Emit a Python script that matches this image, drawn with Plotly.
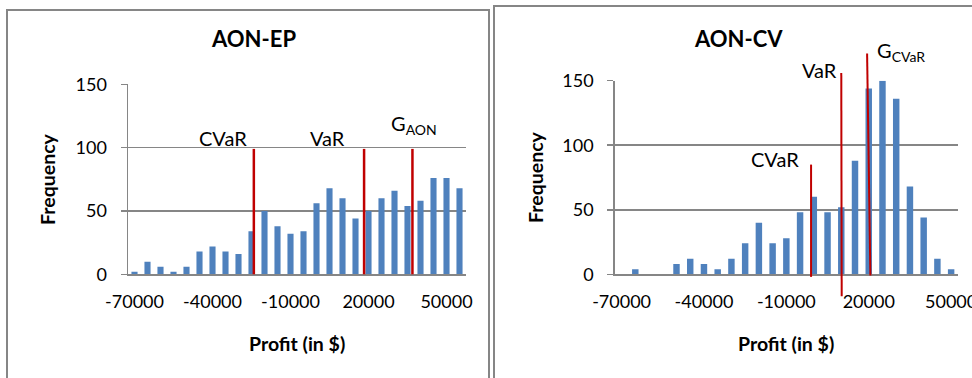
import plotly.graph_objects as go

# ---------------- data ----------------
ep_bins = list(range(-70000, 60000, 5000))          # 26 bins
ep_freq = [2, 10, 6, 2, 6, 18, 22, 18, 16, 34, 50, 38, 32, 34, 56, 68,
           60, 44, 50, 60, 66, 54, 58, 76, 76, 68]

cv_bins = list(range(-70000, 55000, 5000))          # 25 bins
cv_freq = [0, 4, 0, 0, 8, 12, 8, 4, 12, 24, 40, 24, 28, 48, 60, 48,
           52, 88, 144, 150, 136, 68, 44, 12, 4]

tick_vals = [-70000, -40000, -10000, 20000, 50000]
tick_text = ["-70000", "-40000", "-10000", "20000", "50000"]

# marker lines: (label, x_bottom, x_top, y_bottom, y_top)
ep_lines = [("CVaR", -24100, -24100, 0, 99),
            ("VaR", 18300, 18300, 0, 99),
            ("G<sub>AON</sub>", 36900, 36900, 0, 99)]
cv_lines = [("CVaR", -1000, -1000, -2, 85),
            ("VaR", 10150, 10000, -17, 156),
            ("G<sub>CVaR</sub>", 20600, 19400, -1, 171)]

# label positions (x value, frequency level)
ep_labels = [("CVaR", -36000, 108), ("VaR", 4400, 108), ("G<sub>AON</sub>", 37500, 118)]
cv_labels = [("CVaR", -14100, 89), ("VaR", 2200, 158), ("G<sub>CVaR</sub>", 31700, 173)]

YMAX = 150
BLUE = "#4F81BD"
RED = "#C00000"
GRID = "#868686"
FONT = "Lato"

fig = go.Figure()
fig.add_trace(go.Bar(x=ep_bins, y=ep_freq, marker_color=BLUE,
                     marker_line_width=0, xaxis="x", yaxis="y", width=2350))
fig.add_trace(go.Bar(x=cv_bins, y=cv_freq, marker_color=BLUE,
                     marker_line_width=0, xaxis="x2", yaxis="y2", width=2350))

common_x = dict(tickmode="array", tickvals=tick_vals, ticktext=tick_text,
                showgrid=False, showline=True, linecolor=GRID, linewidth=1.5,
                ticks="", tickfont=dict(family=FONT, size=18, color="#000"),
                zeroline=False, fixedrange=True, automargin=False,
                ticklabelstandoff=11, ticklabeloverflow="allow")
common_y = dict(range=[0, YMAX], dtick=50, showgrid=True, gridcolor=GRID,
                gridwidth=1.5, showline=True, linecolor=GRID, linewidth=1.5,
                ticks="outside", ticklen=6, tickcolor=GRID, tickwidth=1.5,
                tickfont=dict(family=FONT, size=18, color="#000"),
                zeroline=False, fixedrange=True, ticklabelstandoff=10,
                automargin=False, ticklabeloverflow="allow")

fig.update_layout(
    width=972, height=378, margin=dict(l=0, r=0, t=0, b=0),
    paper_bgcolor="white", plot_bgcolor="white", showlegend=False,
    xaxis=dict(domain=[128 / 972, 466 / 972], range=[-72500, 57500],
               anchor="y", **common_x),
    yaxis=dict(domain=[103.7 / 378, 293.7 / 378], anchor="x", **common_y),
    xaxis2=dict(domain=[614.7 / 972, 958 / 972], range=[-72500, 52500],
                anchor="y2", **common_x),
    yaxis2=dict(domain=[103.7 / 378, 297.3 / 378], anchor="x2", **common_y),
)

shapes = []
# chart borders
shapes.append(dict(type="rect", xref="paper", yref="paper",
                   x0=7 / 972, x1=489 / 972, y0=-0.05, y1=(378 - 10) / 378,
                   line=dict(color=GRID, width=2)))
shapes.append(dict(type="rect", xref="paper", yref="paper",
                   x0=494 / 972, x1=1.05, y0=-0.05, y1=(378 - 6) / 378,
                   line=dict(color=GRID, width=2)))

for (lab, xb, xt, yb, yt) in ep_lines:
    shapes.append(dict(type="line", xref="x", yref="y domain",
                       x0=xb, x1=xt, y0=yb / YMAX, y1=yt / YMAX,
                       line=dict(color=RED, width=2.5), layer="above"))
for (lab, xb, xt, yb, yt) in cv_lines:
    shapes.append(dict(type="line", xref="x2", yref="y2 domain",
                       x0=xb, x1=xt, y0=yb / YMAX, y1=yt / YMAX,
                       line=dict(color=RED, width=2), layer="above"))

lab_font = dict(family=FONT, size=20, color="#000")
annotations = []
for (t, xv, yv) in ep_labels:
    annotations.append(dict(text=t, x=xv, y=yv / YMAX, xref="x", yref="y domain",
                            xanchor="center", yanchor="middle",
                            showarrow=False, font=lab_font))
for (t, xv, yv) in cv_labels:
    annotations.append(dict(text=t, x=xv, y=yv / YMAX, xref="x2", yref="y2 domain",
                            xanchor="center", yanchor="middle",
                            showarrow=False, font=lab_font))

title_font = dict(family=FONT, size=22, color="#000")
axt_font = dict(family=FONT, size=19.5, color="#000")
texts = [
    ("<b>AON-EP</b>", 254, 39, 0, title_font),
    ("<b>AON-CV</b>", 738, 39, 0, title_font),
    ("<b>Frequency</b>", 48, 179, -90, axt_font),
    ("<b>Frequency</b>", 535, 177, -90, axt_font),
    ("<b>Profit (in $)</b>", 297, 343, 0, axt_font),
    ("<b>Profit (in $)</b>", 786, 343, 0, axt_font),
]
for (t, px, py, ang, f) in texts:
    annotations.append(dict(text=t, x=px / 972, y=(378 - py) / 378, xref="paper",
                            yref="paper", xanchor="center", yanchor="middle",
                            showarrow=False, font=f, textangle=ang))

fig.update_layout(shapes=shapes, annotations=annotations)
fig.write_html("out.html", config={"displayModeBar": False, "staticPlot": True},
               post_script="document.body.style.margin='0px';")
